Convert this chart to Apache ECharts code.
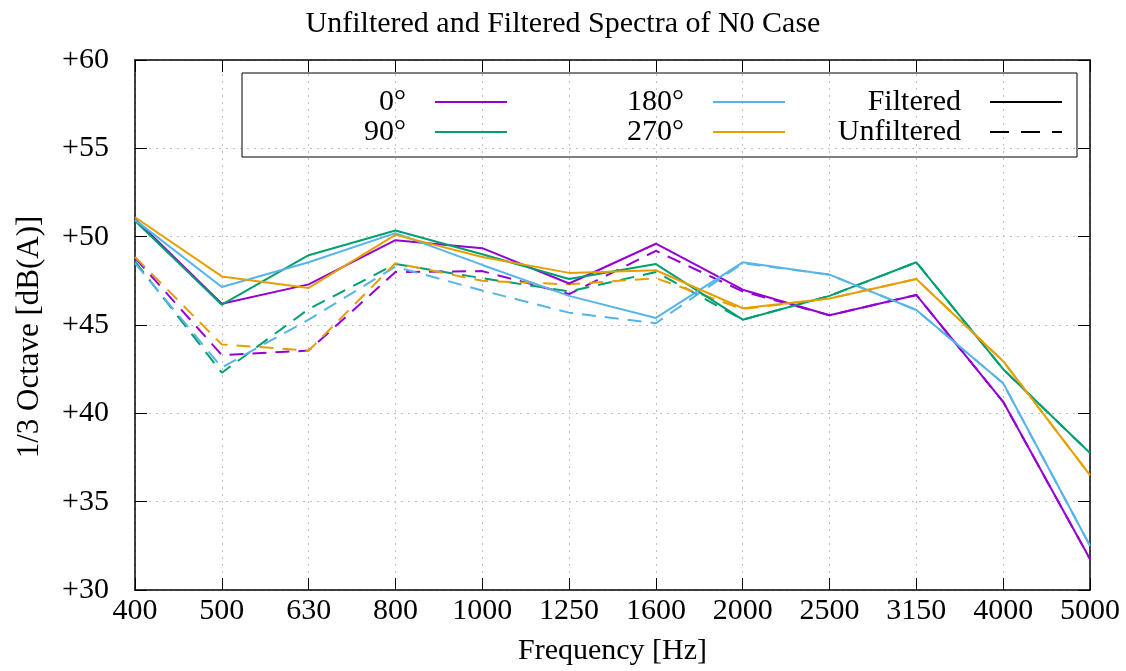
<!DOCTYPE html>
<html>
<head>
<meta charset="utf-8">
<script src="https://cdn.jsdelivr.net/npm/echarts@6/dist/echarts.min.js"></script>
<style>html,body{margin:0;padding:0;background:#fff;}#c{width:1126px;height:671px;}</style>
</head>
<body>
<div id="c"></div>
<script>
const categories = ['400','500','630','800','1000','1250','1600','2000','2500','3150','4000','5000'];
const angleNames = ['0°','90°','180°','270°'];
const filtered0   = [51.0, 46.2, 47.3, 49.8, 49.35, 47.35, 49.6, 47.0, 45.55, 46.7, 40.65, 31.75];
const filtered90  = [50.9, 46.15, 48.95, 50.35, 49.0, 47.6, 48.45, 45.3, 46.65, 48.55, 42.5, 37.75];
const filtered180 = [50.95, 47.15, 48.55, 50.2, 48.4, 46.65, 45.4, 48.55, 47.85, 45.85, 41.7, 32.5];
const filtered270 = [51.1, 47.75, 47.1, 50.1, 48.85, 47.95, 48.1, 45.95, 46.5, 47.6, 42.95, 36.5];
const unfiltered0   = [48.8, 43.3, 43.55, 48.0, 48.05, 46.75, 49.2, 46.9, 45.55, 46.7, 40.65, 31.75];
const unfiltered90  = [48.6, 42.3, 45.9, 48.45, 47.65, 46.9, 48.0, 45.3, 46.65, 48.55, 42.5, 37.75];
const unfiltered180 = [48.5, 42.6, 45.3, 48.3, 46.95, 45.7, 45.1, 48.5, 47.85, 45.85, 41.7, 32.5];
const unfiltered270 = [48.85, 43.9, 43.55, 48.5, 47.5, 47.3, 47.65, 45.9, 46.5, 47.6, 42.95, 36.5];
const yTicks = [30, 35, 40, 45, 50, 55, 60];

const colors = ['#9400d3', '#009e73', '#56b4e9', '#e69f00'];
const filteredSets = [filtered0, filtered90, filtered180, filtered270];
const unfilteredSets = [unfiltered0, unfiltered90, unfiltered180, unfiltered270];
const FONT = '"Liberation Serif", "DejaVu Serif", serif';
const DASH = [14, 9];
const SOLID_ICON = 'path://M0,0H72V2H0Z';
const DASH_ICON = 'path://M0,0H19V2H0Z M31,0H50V2H31Z M62,0H72V2H62Z';

const series = [];
unfilteredSets.forEach((d, i) => {
  series.push({ name: 'u' + i, type: 'line', data: d, symbol: 'none', silent: true,
    lineStyle: { color: colors[i], width: 2, type: DASH }, itemStyle: { color: colors[i] } });
});
filteredSets.forEach((d, i) => {
  series.push({ name: angleNames[i], type: 'line', data: d, symbol: 'none', silent: true,
    lineStyle: { color: colors[i], width: 2 }, itemStyle: { color: colors[i] } });
});
series.push({ name: 'Filtered', type: 'line', data: [], symbol: 'none',
  lineStyle: { color: '#000', width: 2 }, itemStyle: { color: '#000' } });
series.push({ name: 'Unfiltered', type: 'line', data: [], symbol: 'none',
  lineStyle: { color: '#000', width: 2, type: DASH }, itemStyle: { color: '#000' } });

function legendFor(names, icons, right) {
  return {
    orient: 'vertical', align: 'right', top: 87, right: right, padding: 0,
    itemWidth: 72, itemHeight: 2, itemGap: 0, selectedMode: false,
    data: names.map((n, k) => ({ name: n, icon: icons[k] })),
    textStyle: { fontFamily: FONT, fontSize: 30, color: '#000', lineHeight: 28, padding: [0, 24, 0, 0] }
  };
}

const chart = echarts.init(document.getElementById('c'), null, { renderer: 'canvas' });
chart.setOption({
  animation: false,
  backgroundColor: '#fff',
  title: { text: 'Unfiltered and Filtered Spectra of N0 Case', left: 'center', top: 4,
    textStyle: { fontFamily: FONT, fontSize: 30, fontWeight: 'normal', color: '#000' } },
  grid: { left: 135, right: 36, top: 60, bottom: 76 },
  legend: [
    legendFor(['0°', '90°'], [SOLID_ICON, SOLID_ICON], 619),
    legendFor(['180°', '270°'], [SOLID_ICON, SOLID_ICON], 341),
    legendFor(['Filtered', 'Unfiltered'], [SOLID_ICON, DASH_ICON], 64)
  ],
  graphic: [{ type: 'rect', shape: { x: 242, y: 73, width: 835, height: 84 },
    style: { fill: 'rgba(0,0,0,0)', stroke: '#000', lineWidth: 1 }, z: 100, silent: true }],
  xAxis: [
    { type: 'category', data: categories, boundaryGap: false, position: 'bottom',
      name: 'Frequency [Hz]', nameLocation: 'middle', nameGap: 46,
      nameTextStyle: { fontFamily: FONT, fontSize: 30, color: '#000' },
      axisLine: { lineStyle: { color: '#000', width: 1.5 } },
      axisTick: { inside: true, length: 12, alignWithLabel: true, lineStyle: { color: '#000' } },
      axisLabel: { fontFamily: FONT, fontSize: 30, color: '#000', margin: 6 },
      splitLine: { show: true, lineStyle: { color: '#c0c0c0', type: [2, 5], width: 1 } } },
    { type: 'category', data: categories, boundaryGap: false, position: 'top',
      axisLine: { lineStyle: { color: '#000', width: 1.5 } },
      axisTick: { inside: true, length: 12, lineStyle: { color: '#000' } },
      axisLabel: { show: false }, splitLine: { show: false } }
  ],
  yAxis: [
    { type: 'value', min: 30, max: 60, interval: 5, position: 'left',
      name: '1/3 Octave [dB(A)]', nameLocation: 'middle', nameGap: 90, nameRotate: 90,
      nameTextStyle: { fontFamily: FONT, fontSize: 31, color: '#000', padding: [0, 24, 0, 0] },
      axisLine: { show: true, lineStyle: { color: '#000', width: 1.5 } },
      axisTick: { show: true, inside: true, length: 12, lineStyle: { color: '#000' } },
      axisLabel: { fontFamily: FONT, fontSize: 30, color: '#000', margin: 26,
        formatter: v => (yTicks.indexOf(v) >= 0 ? '+' + v : '') },
      splitLine: { show: true, lineStyle: { color: '#c0c0c0', type: [2, 5], width: 1 } } },
    { type: 'value', min: 30, max: 60, interval: 5, position: 'right',
      axisLine: { show: true, lineStyle: { color: '#000', width: 1.5 } },
      axisTick: { show: true, inside: true, length: 12, lineStyle: { color: '#000' } },
      axisLabel: { show: false }, splitLine: { show: false } }
  ],
  series: series
});
</script>
</body>
</html>
